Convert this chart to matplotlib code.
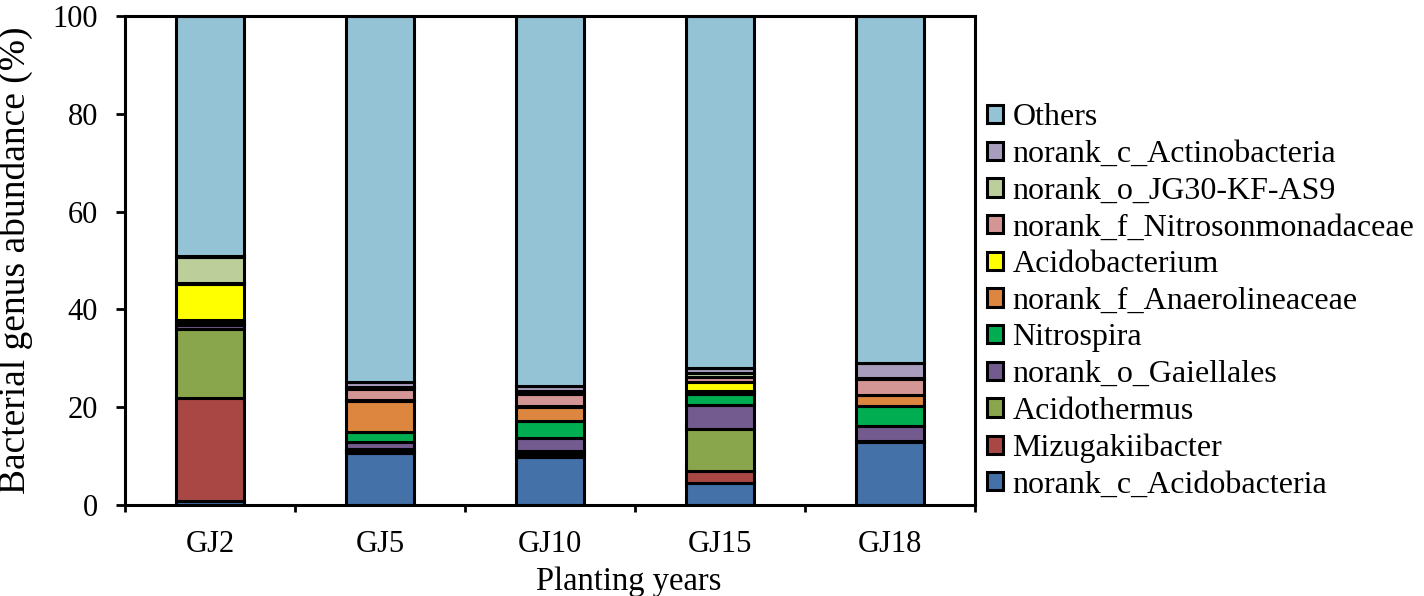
import numpy as np
import matplotlib
matplotlib.use('Agg')
import matplotlib.pyplot as plt

plt.rcParams['font.family'] = ['Liberation Serif', 'DejaVu Serif']

samples = ['GJ2', 'GJ5', 'GJ10', 'GJ15', 'GJ18']
genera = ['norank_c_Acidobacteria', 'Mizugakiibacter', 'Acidothermus',
          'norank_o_Gaiellales', 'Nitrospira', 'norank_f_Anaerolineaceae',
          'Acidobacterium', 'norank_f_Nitrosonmonadaceae', 'norank_o_JG30-KF-AS9',
          'norank_c_Actinobacteria', 'Others']

# relative abundance (%) per sample
acidobacteria = [0.8, 10.6, 9.9, 4.4, 12.9]
mizugakiibacter = [21.15, 0.4, 0.6, 2.6, 0.1]
acidothermus = [13.95, 0.45, 0.6, 8.5, 0.1]
gaiellales = [1.0, 1.35, 2.6, 4.9, 3.1]
nitrospira = [0.4, 2.1, 3.4, 2.4, 4.0]
anaerolineaceae = [0.5, 6.3, 2.9, 0.6, 2.2]
acidobacterium = [7.3, 0.3, 0.3, 1.7, 0.1]
nitrosomonadaceae = [0.2, 2.3, 2.5, 1.1, 3.3]
jg30 = [5.5, 0.4, 0.5, 0.8, 0.2]
actinobacteria = [0.1, 1.0, 1.0, 1.1, 3.1]
others = [49.1, 74.8, 75.7, 71.9, 70.9]

series = [acidobacteria, mizugakiibacter, acidothermus, gaiellales, nitrospira,
          anaerolineaceae, acidobacterium, nitrosomonadaceae, jg30,
          actinobacteria, others]
colors = ['#4472A8', '#A84744', '#8AA64D', '#735A8F', '#00AD50', '#DD8640',
          '#FFFF00', '#D49694', '#BCCF9A', '#A99DBE', '#93C3D5']

fig = plt.figure(figsize=(14.24, 5.96), dpi=100)
ax = fig.add_axes([125 / 1424, 1 - 505 / 596, 850 / 1424, 489 / 596])

x = np.arange(len(samples))
bottom = np.zeros(len(samples))
for name, vals, c in zip(genera, series, colors):
    ax.bar(x, vals, 0.4, bottom=bottom, color=c, edgecolor='black',
           linewidth=2.2, label=name)
    bottom += np.array(vals)

ax.set_xlim(-0.5, 4.5)
ax.set_ylim(0, 100)
ax.set_yticks(np.arange(0, 101, 20))
ax.set_xticks(x)
ax.set_xticklabels(samples)
ax.set_xticks(np.arange(-0.5, 5, 1), minor=True)
ax.tick_params(axis='x', which='major', length=0, labelsize=22, pad=18)
ax.tick_params(axis='x', which='minor', length=5, width=2)
ax.tick_params(axis='y', length=6.5, width=2, labelsize=22, pad=13)
for s in ax.spines.values():
    s.set_linewidth(2.2)

ax.set_xlabel('Planting years', fontsize=23.5, labelpad=2)
ax.xaxis.set_label_coords(0.593, -0.125)
ax.set_ylabel('Bacterial genus abundance (%)', fontsize=27)
ax.yaxis.set_label_coords(-0.108, 0.5)

h, l = ax.get_legend_handles_labels()
ax.legend(h[::-1], l[::-1], loc='center left', bbox_to_anchor=(1.014, 0.416),
          frameon=False, fontsize=23, handlelength=0.5, handleheight=0.5,
          handletextpad=0.3, labelspacing=0.24, borderaxespad=0, borderpad=0)

fig.savefig('out.png', dpi=100)
